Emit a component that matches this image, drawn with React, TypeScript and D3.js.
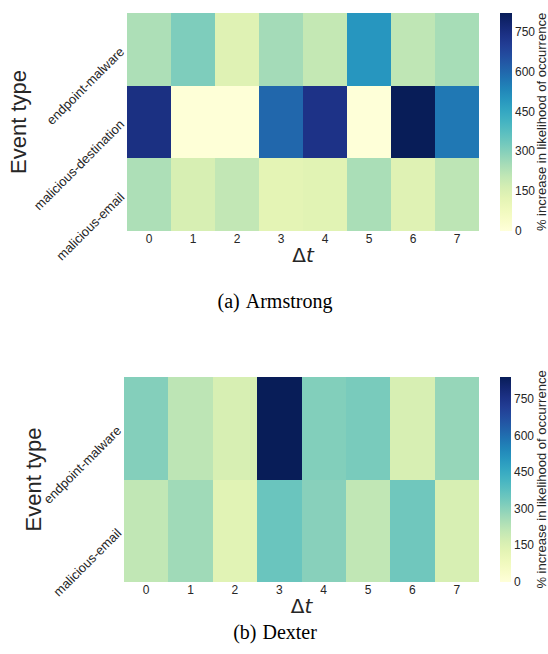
import React from "react";
import * as d3 from "d3";

// time lags shown on the x axis
const lags = ["0", "1", "2", "3", "4", "5", "6", "7"];

// (a) Armstrong
const armstrongTypes = ["endpoint-malware", "malicious-destination", "malicious-email"];
const armstrongValues = [
  [240, 312, 138, 255, 200, 497, 210, 250],
  [745, 4, 4, 600, 735, 3, 822, 564],
  [240, 160, 205, 122, 132, 245, 138, 214],
];

// (b) Dexter
const dexterTypes = ["endpoint-malware", "malicious-email"];
const dexterValues = [
  [311, 218, 162, 842, 313, 328, 162, 283],
  [211, 267, 134, 352, 305, 211, 343, 162],
];

const colorbarTicks = [0, 150, 300, 450, 600, 750];

const sans = "'Liberation Sans', Arial, sans-serif";

type PanelProps = {
  id: string;
  types: string[];
  values: number[][];
  box: { x0: number; x1: number; y0: number; y1: number };
  bar: { x0: number; x1: number };
  eventLabelX: number;
  caption: [string, string];
  captionY: number;
};

const Panel = ({ id, types, values, box, bar, eventLabelX, caption, captionY }: PanelProps) => {
  const vmax = d3.max(values.flat()) as number;
  const x = d3.scaleBand().domain(lags).range([box.x0, box.x1]);
  const y = d3.scaleBand().domain(types).range([box.y0, box.y1]);
  const color = d3.scaleSequential(d3.interpolateYlGnBu).domain([0, vmax]);
  const barY = d3.scaleLinear().domain([0, vmax]).range([box.y1, box.y0]);
  const stops = d3.range(0, 1.0001, 0.05);
  const midY = (box.y0 + box.y1) / 2;
  const midX = (box.x0 + box.x1) / 2;

  return (
    <g>
      <defs>
        <linearGradient id={id} x1="0" y1="1" x2="0" y2="0">
          {stops.map((s) => (
            <stop key={s} offset={s} stopColor={d3.interpolateYlGnBu(s)} />
          ))}
        </linearGradient>
      </defs>

      {values.map((row, i) =>
        row.map((v, j) => (
          <rect
            key={`${i}-${j}`}
            x={x(lags[j])}
            y={y(types[i])}
            width={x.bandwidth()}
            height={y.bandwidth()}
            fill={color(v)}
            shapeRendering="crispEdges"
          />
        ))
      )}

      {lags.map((l) => (
        <text
          key={l}
          x={(x(l) as number) + x.bandwidth() / 2}
          y={box.y1 + 12}
          fontFamily={sans}
          fontSize={12}
          fill="#262626"
          textAnchor="middle"
        >
          {l}
        </text>
      ))}

      {types.map((t) => {
        const cx = box.x0 - 5;
        const cy = (y(t) as number) + y.bandwidth() / 2;
        return (
          <text
            key={t}
            transform={`translate(${cx},${cy}) rotate(-45)`}
            fontFamily={sans}
            fontSize={13}
            fill="#262626"
            textAnchor="end"
            dominantBaseline="central"
          >
            {t}
          </text>
        );
      })}

      <text
        transform={`translate(${eventLabelX},${midY}) rotate(-90)`}
        fontFamily={sans}
        fontSize={22}
        fill="#262626"
        textAnchor="middle"
        dominantBaseline="central"
      >
        Event type
      </text>

      <text
        x={midX}
        y={box.y1 + 31}
        fontFamily="'DejaVu Sans', sans-serif"
        fontSize={20}
        fill="#262626"
        textAnchor="middle"
      >
        Δ<tspan fontStyle="italic">t</tspan>
      </text>

      <rect
        x={bar.x0}
        y={box.y0}
        width={bar.x1 - bar.x0}
        height={box.y1 - box.y0}
        fill={`url(#${id})`}
      />
      {colorbarTicks.map((t) => (
        <text
          key={t}
          x={bar.x1 + 3}
          y={barY(t)}
          fontFamily={sans}
          fontSize={12}
          fill="#262626"
          dominantBaseline="central"
        >
          {t}
        </text>
      ))}
      <text
        transform={`translate(${541},${midY}) rotate(-90)`}
        fontFamily={sans}
        fontSize={13}
        fill="#262626"
        textAnchor="middle"
        dominantBaseline="central"
      >
        % increase in likelihood of occurrence
      </text>

      <text
        x={275}
        y={captionY}
        fontFamily="'Liberation Serif', 'Times New Roman', serif"
        fontSize={20}
        fill="#000"
        textAnchor="middle"
      >
        {caption[0]}
        <tspan dx={6}>{caption[1]}</tspan>
      </text>
    </g>
  );
};

const App = () => (
  <svg
    width={548}
    height={654}
    style={{ position: "absolute", left: 0, top: 0, background: "#fff" }}
  >
    <Panel
      id="cb-armstrong"
      types={armstrongTypes}
      values={armstrongValues}
      box={{ x0: 127, x1: 479, y0: 13, y1: 231 }}
      bar={{ x0: 500, x1: 512 }}
      eventLabelX={18}
      caption={["(a)", "Armstrong"]}
      captionY={308}
    />
    <Panel
      id="cb-dexter"
      types={dexterTypes}
      values={dexterValues}
      box={{ x0: 124, x1: 479, y0: 377, y1: 582 }}
      bar={{ x0: 500, x1: 511 }}
      eventLabelX={33}
      caption={["(b)", "Dexter"]}
      captionY={639}
    />
  </svg>
);

export default App;
